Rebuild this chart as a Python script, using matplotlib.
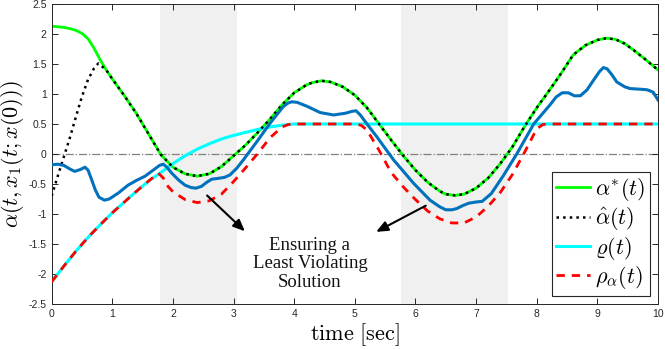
import numpy as np
import matplotlib
matplotlib.use('Agg')
import matplotlib.pyplot as plt

plt.rcParams['mathtext.fontset'] = 'cm'

# alpha*(t)
t_star = [0.0, 0.2, 0.3, 0.4, 0.5, 0.6, 0.7, 0.8, 0.9, 1.0, 1.2, 1.4, 1.6, 1.8,
          2.0, 2.2, 2.4, 2.6, 2.8, 3.0, 3.2, 3.4, 3.6, 3.8, 4.0, 4.2, 4.3, 4.45,
          4.6, 4.8, 5.0, 5.2, 5.4, 5.6, 5.8, 6.0, 6.2, 6.4, 6.5, 6.65, 6.8,
          7.0, 7.2, 7.4, 7.6, 7.8, 8.0, 8.2, 8.4, 8.6, 8.8, 9.0, 9.15, 9.3,
          9.45, 9.6, 9.8, 10.0]
alpha_star = [2.13, 2.11, 2.09, 2.06, 2.01, 1.92, 1.76, 1.57, 1.40, 1.25, 0.97, 0.67,
              0.33, -0.01, -0.22, -0.33, -0.37, -0.33, -0.21, -0.03, 0.15, 0.36,
              0.58, 0.82, 1.02, 1.15, 1.19, 1.22, 1.20, 1.12, 0.98, 0.77, 0.50,
              0.23, -0.03, -0.27, -0.47, -0.62, -0.67, -0.69, -0.67, -0.57,
              -0.40, -0.16, 0.12, 0.46, 0.77, 1.05, 1.34, 1.65, 1.81, 1.90,
              1.93, 1.91, 1.84, 1.73, 1.57, 1.40]

# alpha_hat(t): rise at the start, then it sticks to alpha*
t_hat_rise = [0.0, 0.1, 0.2, 0.3, 0.4, 0.5, 0.6, 0.7, 0.77]
alpha_hat_rise = [-0.70, -0.37, -0.05, 0.27, 0.62, 0.96, 1.24, 1.43, 1.51]

# varrho(t)
t_rho = [0.0, 0.2, 0.4, 0.6, 0.8, 1.0, 1.2, 1.4, 1.6, 1.8, 2.0, 2.2, 2.4,
         2.6, 2.8, 3.0, 3.2, 3.4, 3.6, 3.8, 4.0, 10.0]
varrho = [-2.13, -1.87, -1.62, -1.39, -1.18, -0.98, -0.80, -0.62, -0.45, -0.31,
          -0.16, -0.03, 0.08, 0.17, 0.25, 0.31, 0.36, 0.41, 0.45, 0.48, 0.50, 0.50]

# rho_alpha(t)
t_ra = [0.0, 0.2, 0.4, 0.6, 0.8, 1.0, 1.2, 1.4, 1.6, 1.76, 1.84, 1.9, 2.0, 2.2,
        2.4, 2.6, 2.8, 3.0, 3.2, 3.4, 3.6, 3.8, 3.9, 4.0, 5.0, 5.1, 5.2, 5.4,
        5.6, 5.8, 6.0, 6.2, 6.4, 6.6, 6.8, 7.0, 7.2, 7.4, 7.6, 7.8, 8.0, 8.1,
        8.2, 10.0]
rho_alpha = [-2.13, -1.87, -1.62, -1.39, -1.18, -0.98, -0.80, -0.62, -0.45, -0.32,
             -0.40, -0.52, -0.63, -0.76, -0.81, -0.78, -0.67, -0.46, -0.23, 0.01,
             0.27, 0.45, 0.49, 0.50, 0.50, 0.48, 0.40, 0.06, -0.31, -0.55,
             -0.76, -0.95, -1.08, -1.15, -1.15, -1.05, -0.87, -0.64, -0.34, 0.03,
             0.42, 0.49, 0.50, 0.50]

# closed-loop alpha (blue)
t_blue = [0.0, 0.1, 0.2, 0.3, 0.38, 0.47, 0.55, 0.6, 0.66, 0.72, 0.78, 0.87,
          0.95, 1.1, 1.26, 1.4, 1.54, 1.7, 1.78, 1.84, 1.9, 1.98, 2.1, 2.2, 2.3,
          2.38, 2.47, 2.56, 2.64, 2.72, 2.85, 2.94, 3.05, 3.16, 3.38, 3.6, 3.82,
          3.9, 3.96, 4.05, 4.2, 4.43, 4.65, 4.85, 4.95, 5.02, 5.09, 5.2,
          5.36, 5.64, 5.97, 6.24, 6.4, 6.5, 6.6, 6.68, 6.78, 6.88, 7.0,
          7.1, 7.25, 7.45, 7.67, 7.95, 8.22, 8.32, 8.42, 8.52, 8.62, 8.72, 8.83,
          8.95, 9.04, 9.1, 9.16, 9.24, 9.32, 9.45, 9.54, 9.7, 9.82, 9.92, 10.0]
alpha_cl = [-0.18, -0.17, -0.19, -0.25, -0.29, -0.26, -0.22, -0.27, -0.43, -0.60,
            -0.72, -0.77, -0.75, -0.65, -0.52, -0.44, -0.37, -0.25, -0.19, -0.17,
            -0.22, -0.32, -0.44, -0.52, -0.56, -0.57, -0.54, -0.47, -0.42, -0.41,
            -0.39, -0.35, -0.24, -0.10, 0.20, 0.51, 0.79, 0.85, 0.87, 0.86, 0.80,
            0.69, 0.65, 0.68, 0.71, 0.72, 0.65, 0.50, 0.29, -0.10, -0.49, -0.77,
            -0.88, -0.93, -0.93, -0.91, -0.86, -0.82, -0.80, -0.79, -0.66, -0.36,
            0.00, 0.50, 0.82, 0.95, 1.02, 1.02, 0.97, 0.97, 1.07,
            1.25, 1.38, 1.44, 1.42, 1.32, 1.20, 1.12, 1.09, 1.08, 1.07, 1.03, 0.90]

shade_spans = [(1.78, 3.05), (5.76, 7.52)]

t_hat = np.concatenate([t_hat_rise, t_star[8:]])
alpha_hat = np.concatenate([alpha_hat_rise, alpha_star[8:]])

fig = plt.figure(figsize=(6.65, 3.49), dpi=100)
ax = fig.add_axes([0.0777, 0.129, 0.9118, 0.8596])

for a, b in shade_spans:
    ax.axvspan(a, b, color='#f0f0f0', lw=0, zorder=0)
ax.axhline(0, color='#808080', ls='-.', lw=0.9, zorder=1)

ax.plot(t_star, alpha_star, color='#00ff00', lw=2, label=r'$\alpha^{*}(t)$', zorder=2)
ax.plot(t_hat, alpha_hat, color='k', ls=':', lw=1.8, label=r'$\hat{\alpha}(t)$', zorder=3)
ax.plot(t_rho, varrho, color='#00ffff', lw=2.2, label=r'$\varrho(t)$', zorder=2)
ax.plot(t_ra, rho_alpha, color='#ff0000', ls='--', lw=2, dashes=(3, 2.5),
        label=r'$\rho_{\alpha}(t)$', zorder=3)
ax.plot(t_blue, alpha_cl, color='#0072bd', lw=2.2, zorder=4)

ax.annotate('', xy=(3.22, -1.32), xytext=(2.53, -0.66),
            arrowprops=dict(arrowstyle='-|>,head_length=0.7,head_width=0.3', color='k', lw=1.5))
ax.annotate('', xy=(5.31, -1.32), xytext=(6.21, -0.84),
            arrowprops=dict(arrowstyle='-|>,head_length=0.7,head_width=0.3', color='k', lw=1.5))
ax.text(4.26, -1.83, 'Ensuring a\nLeast Violating\nSolution', ha='center', va='center',
        family='Liberation Serif', fontsize=13.5, linespacing=1.1, color='#111111')

ax.set_xlim(0, 10)
ax.set_ylim(-2.5, 2.5)
ax.set_xticks(range(0, 11))
ax.set_yticks(np.arange(-2.5, 2.51, 0.5))
ax.set_yticklabels(['-2.5', '-2', '-1.5', '-1', '-0.5', '0', '0.5', '1', '1.5', '2', '2.5'])
ax.tick_params(direction='in', top=True, right=True, length=4.5, width=0.7,
               colors='#262626', labelsize=7.5)
for lab in ax.get_xticklabels() + ax.get_yticklabels():
    lab.set_family('Liberation Sans')
for s in ax.spines.values():
    s.set_color('#262626')
    s.set_linewidth(0.7)

ax.set_xlabel(r'$\mathrm{time\ [sec]}$', fontsize=16, labelpad=2)
ax.set_ylabel(r'$\alpha(t,x_1(t;x(0)))$', fontsize=16, labelpad=2)

leg = ax.legend(loc='lower right', bbox_to_anchor=(0.986, 0.028), fontsize=16,
                handlelength=1.55, handletextpad=0.2, labelspacing=0.1,
                borderpad=0.2, borderaxespad=0, fancybox=False, framealpha=1)
leg.get_frame().set_edgecolor('#262626')
leg.get_frame().set_linewidth(0.8)

fig.savefig('out.png', dpi=100)
